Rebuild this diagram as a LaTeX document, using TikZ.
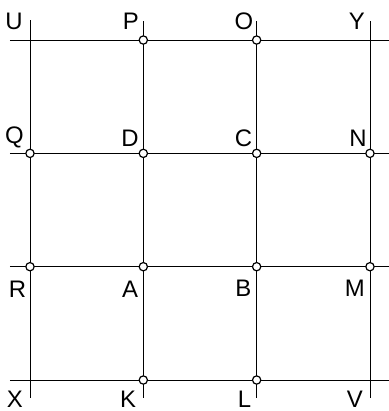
\documentclass[tikz,border=0pt]{standalone}
\usepackage{fontspec}
\setmainfont{Liberation Sans}
\tikzset{
  gridline/.style={line width=0.7pt},
  ring/.style={circle,draw,line width=0.9pt,fill=white,inner sep=0pt,minimum size=0.22cm},
  lbl/.style={font=\fontsize{18}{21}\selectfont,inner sep=0pt}
}
\begin{document}
\begin{tikzpicture}
 \useasboundingbox (-0.794,-0.82) rectangle (9.48,10.06);
 % grid points
 \coordinate (X) at (0,0); \coordinate (K) at (3,0); \coordinate (L) at (6,0); \coordinate (V) at (9,0);
 \coordinate (R) at (0,3); \coordinate (A) at (3,3); \coordinate (B) at (6,3); \coordinate (M) at (9,3);
 \coordinate (Q) at (0,6); \coordinate (D) at (3,6); \coordinate (C) at (6,6); \coordinate (N) at (9,6);
 \coordinate (U) at (0,9); \coordinate (P) at (3,9); \coordinate (O) at (6,9); \coordinate (Y) at (9,9);
 % horizontal lines
 \draw[gridline] ([xshift=-0.53cm]U)--([xshift=0.6cm]Y);
 \draw[gridline] ([xshift=-0.53cm]Q)--([xshift=0.6cm]N);
 \draw[gridline] ([xshift=-0.53cm]R)--([xshift=0.6cm]M);
 \draw[gridline] ([xshift=-0.53cm]X)--([xshift=0.6cm]V);
 % vertical lines
 \draw[gridline] ([yshift=0.53cm]U)--([yshift=-0.48cm]X);
 \draw[gridline] ([yshift=0.5cm]P)--([yshift=-0.48cm]K);
 \draw[gridline] ([yshift=0.5cm]O)--([yshift=-0.48cm]L);
 \draw[gridline] ([yshift=0.5cm]Y)--([yshift=-0.48cm]V);
 % marked points
 \node[ring] at (P) {}; \node[ring] at (O) {};
 \node[ring] at (Q) {}; \node[ring] at (D) {}; \node[ring] at (C) {}; \node[ring] at (N) {};
 \node[ring] at (R) {}; \node[ring] at (A) {}; \node[ring] at (B) {}; \node[ring] at (M) {};
 \node[ring] at (K) {}; \node[ring] at (L) {};
 % letters
 \node[lbl] (tU) at ([shift={(-0.42,0.5)}]U) {U};
 \node[lbl] (tP) at ([shift={(-0.33,0.5)}]P) {P};
 \node[lbl] (tO) at ([shift={(-0.34,0.5)}]O) {O};
 \node[lbl] (tY) at ([shift={(-0.35,0.5)}]Y) {Y};
 \node[lbl] (tQ) at ([shift={(-0.41,0.41)}]Q) {Q};
 \node[lbl] (tD) at ([shift={(-0.35,0.41)}]D) {D};
 \node[lbl] (tC) at ([shift={(-0.35,0.4)}]C) {C};
 \node[lbl] (tN) at ([shift={(-0.32,0.4)}]N) {N};
 \node[lbl] (tR) at ([shift={(-0.33,-0.6)}]R) {R};
 \node[lbl] (tA) at ([shift={(-0.35,-0.6)}]A) {A};
 \node[lbl] (tB) at ([shift={(-0.35,-0.58)}]B) {B};
 \node[lbl] (tM) at ([shift={(-0.4,-0.58)}]M) {M};
 \node[lbl] (tX) at ([shift={(-0.4,-0.52)}]X) {X};
 \node[lbl] (tK) at ([shift={(-0.4,-0.52)}]K) {K};
 \node[lbl] (tL) at ([shift={(-0.32,-0.52)}]L) {L};
 \node[lbl] (tV) at ([shift={(-0.4,-0.52)}]V) {V};
\end{tikzpicture}
\end{document}
